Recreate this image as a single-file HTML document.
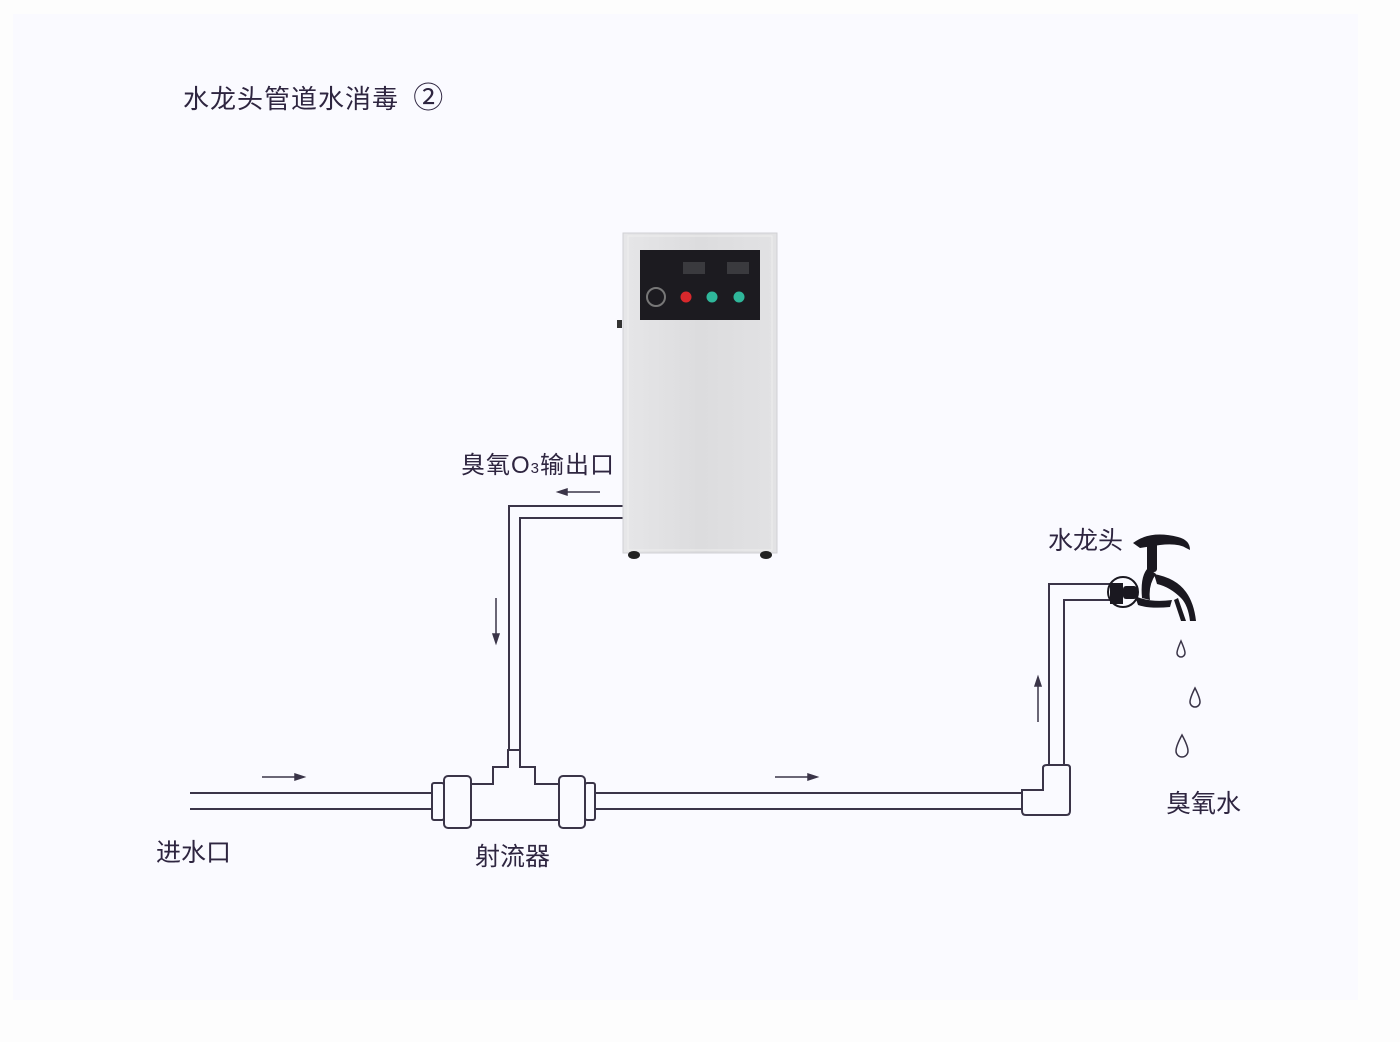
<!DOCTYPE html>
<html><head><meta charset="utf-8"><style>
html,body{margin:0;padding:0;background:#fdfdfd;}
body{width:1400px;height:1042px;position:relative;overflow:hidden;font-family:"Liberation Sans","Noto Sans CJK SC",sans-serif;}
.t{position:absolute;color:#2e2540;white-space:nowrap;line-height:1;}
</style></head><body>
<div style="position:absolute;left:13px;top:14px;width:1345px;height:986px;background:#fafaff;"></div>
<svg width="1400" height="1042" style="position:absolute;left:0;top:0">
<defs>
<linearGradient id="g" x1="0" x2="1"><stop offset="0" stop-color="#e6e6e8"/><stop offset="0.5" stop-color="#dcdcde"/><stop offset="1" stop-color="#e2e2e4"/></linearGradient>
</defs>
<g fill="none" stroke="#3a3448" stroke-width="2">
<line x1="190" y1="793" x2="432" y2="793"/><line x1="190" y1="809" x2="432" y2="809"/>
<rect x="432" y="783" width="12" height="37" rx="2"/>
<rect x="444" y="776" width="27" height="52" rx="4"/>
<path d="M471 784 H493 V767 H508 V750 H520 V767 H535 V784 H559 M471 820 H559"/>
<rect x="559" y="776" width="26" height="52" rx="4"/>
<rect x="585" y="783" width="10" height="37" rx="2"/>
<line x1="595" y1="793" x2="1022" y2="793"/><line x1="595" y1="809" x2="1022" y2="809"/>
<path d="M1022 790 H1043 V768 Q1043 765 1047 765 H1067 Q1070 765 1070 768 V811 Q1070 815 1066 815 H1026 Q1022 815 1022 811 Z"/>
<path d="M1049 765 V584 H1112 M1064 765 V600 H1112"/>
<path d="M509 750 V506 H624 M520 750 V518 H624"/>
</g>
<g stroke="#3a3448" stroke-width="1.5" fill="#3a3448">
<line x1="262" y1="777" x2="298" y2="777"/><path d="M304 777 L295 774 L295 780Z"/>
<line x1="775" y1="777" x2="811" y2="777"/><path d="M817 777 L808 774 L808 780Z"/>
<line x1="496" y1="598" x2="496" y2="636"/><path d="M496 643 L493 634 L499 634Z"/>
<line x1="1038" y1="722" x2="1038" y2="684"/><path d="M1038 677 L1035 686 L1041 686Z"/>
<line x1="600" y1="492" x2="565" y2="492"/><path d="M558 492 L567 489 L567 495Z"/>
</g>
<rect x="623" y="233" width="154" height="320" fill="url(#g)" stroke="#d0d0d4"/>
<rect x="628" y="236" width="144" height="314" fill="none" stroke="#eeeeee" stroke-width="1"/>
<rect x="617" y="320" width="5" height="8" fill="#333"/>
<rect x="640" y="250" width="120" height="70" fill="#1c1b20"/>
<rect x="683" y="262" width="22" height="12" fill="#3a3a3e"/>
<rect x="727" y="262" width="22" height="12" fill="#3a3a3e"/>
<circle cx="656" cy="297" r="9" fill="none" stroke="#777" stroke-width="2"/>
<circle cx="686" cy="297" r="5.5" fill="#d8282c"/>
<circle cx="712" cy="297" r="5.5" fill="#2fb79a"/>
<circle cx="739" cy="297" r="5.5" fill="#2fb79a"/>
<ellipse cx="634" cy="555" rx="6" ry="4" fill="#222"/>
<ellipse cx="766" cy="555" rx="6" ry="4" fill="#222"/>
<g fill="#1a1820">
<circle cx="1123" cy="592" r="15" fill="none" stroke="#1a1820" stroke-width="2"/>
<rect x="1110" y="583" width="13" height="21"/>
<rect x="1123" y="586" width="14" height="13" rx="3"/>
<path d="M1135 596 Q1150 603 1172 600 L1170 607 Q1150 609 1138 605Z"/>
<path d="M1148 568 Q1140 576 1142 598 L1150 600 Q1148 585 1156 574Z"/>
<path d="M1154 574 Q1176 578 1186 592 Q1194 603 1196 621 L1190 621 Q1188 605 1181 598 Q1170 587 1157 584Z"/>
<path d="M1178 598 L1186 621 L1181 621 L1174 600Z"/>
<rect x="1147" y="540" width="10" height="32" rx="3"/>
<path d="M1133 543 Q1150 530 1178 537 Q1190 540 1190 550 L1186 548 Q1178 543 1160 545 L1140 548Z"/>
</g>
<g fill="none" stroke="#3a3448" stroke-width="1.5">
<path d="M1181 641 Q1177 650 1177 653 A4 4 0 0 0 1185 653 Q1185 650 1181 641Z"/>
<path d="M1195 688 Q1190 698 1190 702 A5 5 0 0 0 1200 702 Q1200 698 1195 688Z"/>
<path d="M1182 735 Q1176 746 1176 751 A6 6 0 0 0 1188 751 Q1188 746 1182 735Z"/>
</g>
</svg>
<div class="t" style="left:183px;top:84px;font-size:26px;letter-spacing:1px;">水龙头管道水消毒 <span style="font-size:30px;margin-left:6px">②</span></div>
<div class="t" style="left:461px;top:454px;font-size:24px;letter-spacing:1px;">臭氧O<span style="font-size:15px">3</span>输出口</div>
<div class="t" style="left:1048px;top:529px;font-size:25px;">水龙头</div>
<div class="t" style="left:1166px;top:792px;font-size:25px;">臭氧水</div>
<div class="t" style="left:156px;top:841px;font-size:25px;">进水口</div>
<div class="t" style="left:475px;top:845px;font-size:25px;">射流器</div>
</body></html>
